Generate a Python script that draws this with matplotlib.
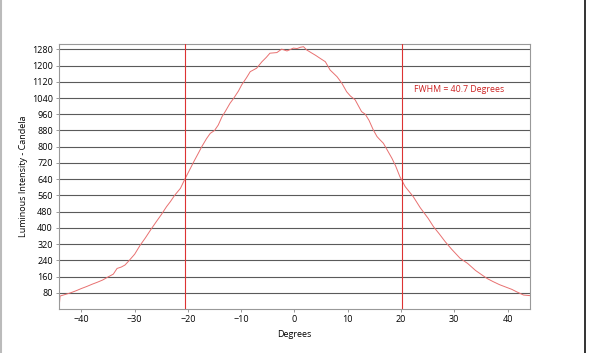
import matplotlib
matplotlib.use('Agg')
import matplotlib.pyplot as plt
from matplotlib.lines import Line2D
import numpy as np

# angle (degrees) and luminous intensity (candela)
degrees = [-44.2, -44.0, -43.0, -42.0, -41.0, -40.0, -39.0, -38.0, -37.0, -36.0,
           -35.0, -34.0, -33.3, -32.5, -31.8, -31.0, -30.0, -29.0, -28.0, -27.0,
           -26.0, -25.0, -24.0, -23.3, -22.5, -21.4, -20.5, -19.5, -18.9, -18.0,
           -17.4, -16.5, -15.8, -15.0, -14.3, -13.6, -13.0, -12.1, -11.4, -10.5,
           -9.9, -9.0, -8.3, -7.1, -6.1, -5.3, -4.6, -3.3, -2.4, -1.4,
           -0.2, 0.5, 1.1, 1.7, 2.3, 3.3, 4.0, 4.8, 5.8, 6.7,
           8.0, 8.9, 9.8, 10.5, 11.4, 12.6, 13.3, 14.0, 14.8, 15.5,
           16.1, 16.7, 17.5, 18.3, 19.0, 19.8, 20.8, 22.3, 23.6, 25.1,
           26.1, 27.2, 28.3, 29.5, 31.1, 32.5, 34.0, 35.2, 36.2, 37.3,
           38.5, 39.8, 40.8, 41.7, 43.0, 44.2]
candela = [0, 64, 72, 80, 90, 101, 111, 122, 132, 143,
           158, 172, 200, 207, 217, 240, 270, 313, 350, 390,
           428, 465, 505, 529, 560, 595, 644, 695, 726, 770,
           800, 840, 866, 880, 907, 948, 973, 1014, 1039, 1075,
           1105, 1140, 1170, 1187, 1219, 1240, 1261, 1264, 1281, 1272,
           1286, 1284, 1290, 1293, 1277, 1261, 1250, 1236, 1219, 1178,
           1145, 1113, 1071, 1050, 1031, 973, 960, 930, 883, 850,
           833, 817, 780, 743, 705, 652, 603, 554, 500, 447,
           406, 370, 332, 295, 250, 225, 190, 168, 150, 135,
           120, 107, 97, 85, 69, 66]

half_max_angles = [-20.55, 20.2]
fwhm_text = 'FWHM = 40.7 Degrees'
yticks = list(range(80, 1281, 80))
xticks = list(range(-40, 41, 10))

plt.rcParams['font.family'] = ['Open Sans', 'DejaVu Sans']

fig = plt.figure(figsize=(5.9, 3.53), dpi=100)
ax = fig.add_axes([0.1, 0.1246, 0.799, 0.75])

ax.plot(degrees, candela, color='#e87070', lw=0.7)
for a in half_max_angles:
    ax.axvline(a, color='#dd3333', lw=0.8, zorder=3)

ax.text(22.5, 1080, fwhm_text, color='#cc2222', fontsize=6.3, va='center', ha='left')

ax.set_xlim(-44.2, 44.3)
ax.set_ylim(0, 1305)
ax.set_yticks(yticks)
ax.set_xticks(xticks)
ax.yaxis.grid(True, color='#5a5a5a', lw=0.8)
ax.set_axisbelow(True)
ax.tick_params(labelsize=6.5, length=2.5, width=0.6, color='#888888', pad=2)

for s in ax.spines.values():
    s.set_color('#999999')
    s.set_linewidth(0.8)

ax.set_xlabel('Degrees', fontsize=6.5, labelpad=4)
ax.set_ylabel('Luminous Intensity - Candela', fontsize=6.5, labelpad=3)

# figure frame lines
fig.add_artist(Line2D([0.002, 0.002], [0, 1], color='#bbbbbb', lw=1.5))
fig.add_artist(Line2D([0.992, 0.992], [0, 1], color='#111111', lw=1.2))

plt.savefig('out.png', dpi=100)
